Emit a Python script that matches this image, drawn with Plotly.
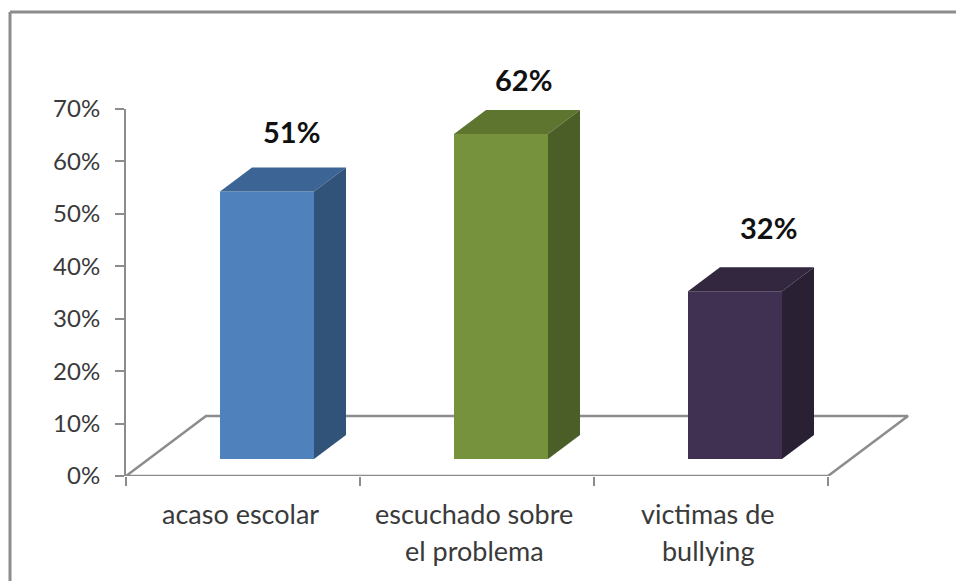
import plotly.graph_objects as go

categories = [["acaso escolar"], ["escuchado sobre", "el problema"], ["victimas de", "bullying"]]
values = [51, 62, 32]
y_ticks = [0, 10, 20, 30, 40, 50, 60, 70]
y_labels = ["0%", "10%", "20%", "30%", "40%", "50%", "60%", "70%"]

front_colors = ["#4F81BD", "#76923C", "#403152"]
top_colors = ["#3C6494", "#5E7530", "#33273F"]
side_colors = ["#315379", "#4B5E27", "#292033"]

GRAY = "#8C8C8C"
TEXT = "#3A3A3A"
FONT = "Lato"

# pixel scale of the plot area, 3d offsets below are in data units
PX_X = 234.0
PX_Y = 367 / 70.0

floor_dx = 80 / PX_X
floor_dy = 60 / PX_Y
bar_base = 17 / PX_Y
bar_width = 94 / PX_X
bar_shift = 24 / PX_X
bar_dx = 32 / PX_X
bar_dy = 24 / PX_Y


def poly(xs, ys, color):
    return go.Scatter(x=xs, y=ys, mode="none", fill="toself", fillcolor=color,
                      hoverinfo="skip", showlegend=False)


fig = go.Figure()

# floor of the 3d chart
x0, x1 = -0.5, len(values) - 0.5
fig.add_trace(go.Scatter(x=[x0, x0 + floor_dx, x1 + floor_dx, x1, x0],
                         y=[0, floor_dy, floor_dy, 0, 0],
                         mode="lines", line=dict(color=GRAY, width=2.5),
                         hoverinfo="skip", showlegend=False, cliponaxis=False))

for i, v in enumerate(values):
    left = i + bar_shift - bar_width / 2
    right = left + bar_width
    low = bar_base
    high = bar_base + v
    fig.add_trace(poly([left, right, right, left, left], [low, low, high, high, low], front_colors[i]))
    fig.add_trace(poly([left, right, right + bar_dx, left + bar_dx, left],
                       [high, high, high + bar_dy, high + bar_dy, high], top_colors[i]))
    fig.add_trace(poly([right, right + bar_dx, right + bar_dx, right, right],
                       [low, low + bar_dy, high + bar_dy, high, low], side_colors[i]))

# value labels, nudged per bar
label_nudge = [(8, 2), (6, -4), (17, 6)]
for i, v in enumerate(values):
    dx, dy = label_nudge[i]
    fig.add_annotation(x=i + bar_shift + bar_dx / 2, y=v + bar_base + bar_dy, yref="y", xref="x",
                       text="<b>%d%%</b>" % v, showarrow=False, yanchor="middle",
                       xshift=dx, yshift=34 + dy,
                       font=dict(family=FONT, size=29, color="#111111"))

# category labels, spaced by hand because the lines sit far apart
for i, lines in enumerate(categories):
    for j, line in enumerate(lines):
        fig.add_annotation(x=i, y=0, xref="x", yref="y", text=line, showarrow=False,
                           yanchor="middle", xshift=-3, yshift=-37 - 37 * j,
                           font=dict(family=FONT, size=27, color=TEXT))

fig.update_layout(
    width=956, height=581,
    margin=dict(l=126, r=46, t=109, b=105),
    paper_bgcolor="white", plot_bgcolor="white",
    showlegend=False,
    xaxis=dict(range=[-0.5, -0.5 + 784 / PX_X], showgrid=False, zeroline=False, showline=False,
               tickvals=[-0.5, 0.5, 1.5, 2.5], ticktext=["", "", "", ""],
               ticks="outside", ticklen=9, tickwidth=2, tickcolor=GRAY),
    yaxis=dict(range=[0, 70], showgrid=False, zeroline=False, showline=True,
               linecolor=GRAY, linewidth=2, tickvals=y_ticks, ticktext=y_labels,
               ticks="outside", ticklen=9, tickwidth=2, tickcolor=GRAY,
               ticklabelstandoff=10,
               tickfont=dict(family=FONT, size=24, color=TEXT)),
)

# frame of the pasted picture: only top and left are in view
fig.add_shape(type="line", xref="paper", yref="paper", x0=-116 / 784, x1=830 / 784 + 0.2,
              y0=1 + 97 / 367, y1=1 + 97 / 367, line=dict(color=GRAY, width=3))
fig.add_shape(type="line", xref="paper", yref="paper", x0=-116 / 784, x1=-116 / 784,
              y0=1 + 97 / 367, y1=-110 / 367, line=dict(color=GRAY, width=3))

fig.write_html("out.html", config={"displayModeBar": False},
               post_script="document.body.style.margin = '0';")
